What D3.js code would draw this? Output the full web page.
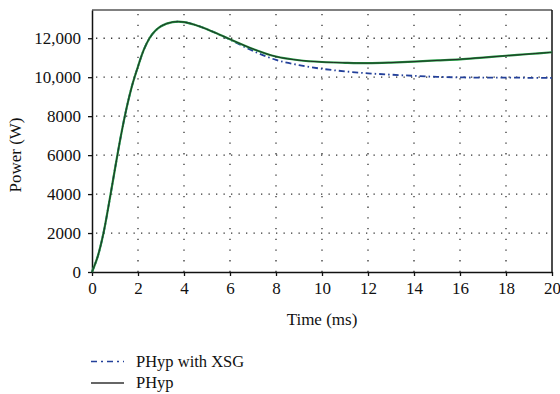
<!DOCTYPE html>
<html lang="en">
<head>
  <meta charset="UTF-8" />
  <title>Power vs Time</title>
  <style>
    body { margin: 0; background: #fff; }
    svg { display: block; }
    text { font-family: "Liberation Serif", "DejaVu Serif", serif; fill: #111; }
  </style>
</head>
<body>
  <div id="chart"></div>
  <script src="https://d3js.org/d3.v7.min.js"></script>
  <script>
    // Time values (ms) and power (W)
    const timePHyp = [0, 0.25, 0.5, 0.75, 1.0, 1.25, 1.5, 1.75, 2.0, 2.25, 2.5, 2.75, 3.0, 3.5, 4.0, 4.5, 5.0, 5.5, 6.0,
      7, 8, 9, 10, 11, 12, 13, 14, 15, 16, 17, 18, 19, 20];
    const powerPHyp = [0, 800, 2000, 3600, 5300, 6950, 8400, 9600, 10550, 11400, 12000, 12380, 12620, 12830, 12830, 12680, 12460, 12210, 11950,
      11450, 11060, 10870, 10780, 10740, 10720, 10750, 10800, 10860, 10920, 11010, 11100, 11190, 11280];

    const timeXSG = [0, 0.25, 0.5, 0.75, 1.0, 1.25, 1.5, 1.75, 2.0, 2.25, 2.5, 2.75, 3.0, 3.5, 4.0, 4.5, 5.0, 5.5, 6.0,
      7, 8, 9, 10, 11, 12, 13, 14, 15, 16, 17, 18, 19, 20];
    const powerXSG = [0, 800, 2000, 3600, 5300, 6950, 8400, 9600, 10550, 11400, 12000, 12380, 12620, 12830, 12830, 12680, 12460, 12210, 11930,
      11350, 10890, 10620, 10430, 10300, 10200, 10130, 10070, 10020, 9990, 9980, 9980, 9970, 9960];

    const xTicks = [0, 2, 4, 6, 8, 10, 12, 14, 16, 18, 20];
    const yTicks = [0, 2000, 4000, 6000, 8000, 10000, 12000];
    const legendNames = ["PHyp with XSG", "PHyp"];

    const W = 560, H = 394;
    const margin = { top: 10, right: 8, bottom: 122, left: 92 };
    const width = W - margin.left - margin.right;
    const height = H - margin.top - margin.bottom;
    const serif = "'Liberation Serif', 'DejaVu Serif', serif";

    const svg = d3.select("#chart").append("svg")
      .attr("width", W).attr("height", H);
    const g = svg.append("g")
      .attr("transform", `translate(${margin.left},${margin.top})`);

    const x = d3.scaleLinear().domain([0, 20]).range([0, width]);
    const y = d3.scaleLinear().domain([0, 13450]).range([height, 0]);

    // dotted grid
    g.selectAll(".vgrid").data(xTicks.filter(d => d > 0 && d < 20)).enter()
      .append("line")
      .attr("x1", d => x(d)).attr("x2", d => x(d))
      .attr("y1", 0).attr("y2", height)
      .attr("stroke", "#333").attr("stroke-width", 1.3)
      .attr("stroke-dasharray", "1.3,9.4")
      .attr("stroke-dashoffset", -4);
    g.selectAll(".hgrid").data(yTicks.filter(d => d > 0)).enter()
      .append("line")
      .attr("x1", 0).attr("x2", width)
      .attr("y1", d => y(d)).attr("y2", d => y(d))
      .attr("stroke", "#333").attr("stroke-width", 1.3)
      .attr("stroke-dasharray", "1.3,6.2")
      .attr("stroke-dashoffset", -4);

    // frame: gray top, black right
    g.append("line").attr("x1", 0).attr("x2", width).attr("y1", 0).attr("y2", 0)
      .attr("stroke", "#808080").attr("stroke-width", 2);
    g.append("line").attr("x1", width).attr("x2", width).attr("y1", 0).attr("y2", height)
      .attr("stroke", "#111").attr("stroke-width", 1.5);

    // axes
    const xAxis = g.append("g")
      .attr("transform", `translate(0,${height})`)
      .call(d3.axisBottom(x).tickValues(xTicks).tickSize(4).tickSizeOuter(0).tickPadding(6));
    const yAxis = g.append("g")
      .call(d3.axisLeft(y).tickValues(yTicks).tickSize(4).tickSizeOuter(0).tickPadding(7)
        .tickFormat(d => d >= 10000 ? d3.format(",")(d) : String(d)));
    [xAxis, yAxis].forEach(a => {
      a.attr("font-family", null).attr("font-size", null);
      a.select(".domain").attr("stroke", "#111").attr("stroke-width", 1.5);
      a.selectAll(".tick line").attr("stroke", "#111").attr("stroke-width", 1.3);
      a.selectAll("text").style("font-size", "17px").style("fill", "#111")
        .style("font-family", serif);
    });

    // lines
    const line = d3.line().x(d => x(d[0])).y(d => y(d[1])).curve(d3.curveCatmullRom.alpha(0.5));
    const dPHyp = timePHyp.map((t, i) => [t, powerPHyp[i]]);
    const dXSG = timeXSG.map((t, i) => [t, powerXSG[i]]);

    g.append("path").datum(dXSG).attr("d", line)
      .attr("fill", "none").attr("stroke", "#23409a").attr("stroke-width", 1.8)
      .attr("stroke-dasharray", "6,3,1.5,3");
    g.append("path").datum(dPHyp).attr("d", line)
      .attr("fill", "none").attr("stroke", "#1f9a40").attr("stroke-width", 2.2);
    g.append("path").datum(dPHyp).attr("d", line)
      .attr("fill", "none").attr("stroke", "#222").attr("stroke-width", 0.9);

    // axis titles
    svg.append("text")
      .attr("x", margin.left + width / 2).attr("y", 325)
      .attr("text-anchor", "middle").style("font-size", "17px")
      .text("Time (ms)");
    svg.append("text")
      .attr("transform", "translate(21,155) rotate(-90)")
      .attr("text-anchor", "middle").style("font-size", "17px")
      .text("Power (W)");

    // legend
    const legend = svg.append("g");
    legendNames.forEach((name, i) => {
      const ly = 361.5 + i * 21.5;
      legend.append("line")
        .attr("x1", 91).attr("x2", 124).attr("y1", ly).attr("y2", ly)
        .attr("stroke", i === 0 ? "#23409a" : "#333").attr("stroke-width", 1.5)
        .attr("stroke-dasharray", i === 0 ? "6,4,2,4" : null);
      legend.append("text")
        .attr("x", 136).attr("y", ly + 5)
        .style("font-size", "16.5px")
        .text(name);
    });
  </script>
</body>
</html>
